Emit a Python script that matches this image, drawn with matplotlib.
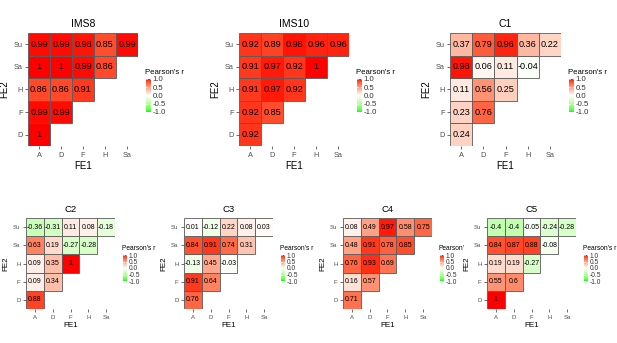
import numpy as np
import matplotlib
matplotlib.use("Agg")
import matplotlib.pyplot as plt
from matplotlib.colors import ListedColormap, Normalize
from matplotlib.patches import Rectangle

plt.rcParams["font.family"] = ["Liberation Sans", "DejaVu Sans"]

# rows bottom -> top, columns left -> right
fe1 = ["A", "D", "F", "H", "Sa"]
fe2 = ["D", "F", "H", "Sa", "Su"]

ims8 = [[1], [0.99, 0.99], [0.86, 0.86, 0.91], [1, 1, 0.99, 0.86],
        [0.99, 0.99, 0.98, 0.85, 0.99]]
ims10 = [[0.92], [0.92, 0.85], [0.91, 0.97, 0.92], [0.91, 0.97, 0.92, 1],
         [0.92, 0.89, 0.98, 0.96, 0.96]]
c1 = [[0.24], [0.23, 0.76], [0.11, 0.56, 0.25], [0.98, 0.06, 0.11, -0.04],
      [0.37, 0.79, 0.96, 0.36, 0.22]]
c2 = [[0.88], [0.09, 0.34], [0.09, 0.35, 1], [0.63, 0.19, -0.27, -0.28],
      [-0.36, -0.31, 0.11, 0.08, -0.18]]
c3 = [[0.76], [0.91, 0.64], [-0.13, 0.45, -0.03], [0.84, 0.91, 0.74, 0.31],
      [0.01, -0.12, 0.22, 0.08, 0.03]]
c4 = [[0.71], [0.16, 0.57], [0.76, 0.93, 0.69], [0.48, 0.91, 0.78, 0.85],
      [0.08, 0.49, 0.97, 0.58, 0.75]]
c5 = [[1], [0.55, 0.6], [0.19, 0.19, -0.27], [0.84, 0.87, 0.88, -0.08],
      [-0.4, -0.4, -0.05, -0.24, -0.28]]

titles = ["IMS8", "IMS10", "C1", "C2", "C3", "C4", "C5"]
mats = [ims8, ims10, c1, c2, c3, c4, c5]
legend_titles = ["Pearson's r"] * 5 + ["Pearson'", "Pearson's r"]
cbar_ticks = [1.0, 0.5, 0.0, -0.5, -1.0]


# green - white - red gradient, interpolated in Lab like ggplot
M = np.array([[0.4124, 0.3576, 0.1805], [0.2126, 0.7152, 0.0722], [0.0193, 0.1192, 0.9505]])
WP = np.array([0.95047, 1.0, 1.08883])


def to_lab(rgb):
    c = np.asarray(rgb, float)
    lin = np.where(c <= 0.04045, c / 12.92, ((c + 0.055) / 1.055) ** 2.4)
    xyz = M @ lin / WP
    f = np.where(xyz > 0.008856, np.cbrt(xyz), 7.787 * xyz + 16 / 116)
    return np.array([116 * f[1] - 16, 500 * (f[0] - f[1]), 200 * (f[1] - f[2])])


def from_lab(lab):
    L, a, b = lab
    fy = (L + 16) / 116
    f = np.array([fy + a / 500, fy, fy - b / 200])
    xyz = np.where(f ** 3 > 0.008856, f ** 3, (f - 16 / 116) / 7.787) * WP
    lin = np.clip(np.linalg.inv(M) @ xyz, 0, 1)
    c = np.where(lin <= 0.0031308, 12.92 * lin, 1.055 * lin ** (1 / 2.4) - 0.055)
    return np.clip(c, 0, 1)


green, white, red = to_lab([0, 1, 0]), to_lab([1, 1, 1]), to_lab([1, 0, 0])
cols = [from_lab(green + (white - green) * t) for t in np.linspace(0, 1, 128)]
cols += [from_lab(white + (red - white) * t) for t in np.linspace(0, 1, 128)]
cmap = ListedColormap(cols)
norm = Normalize(-1, 1)

W, H = 617, 343
fig = plt.figure(figsize=(W / 100, H / 100), dpi=100)


def px_axes(left, top, right, bottom):
    return fig.add_axes([left / W, 1 - bottom / H, (right - left) / W, (bottom - top) / H])


# grid boxes in pixels: left, top, right, bottom
boxes = [(28, 33, 138, 146), (239, 33, 349, 146), (450, 33, 561, 146),
         (26, 218, 115, 309), (184, 218, 273, 309), (343, 218, 432, 309), (487, 218, 576, 309)]

for k in range(7):
    big = k < 3
    l, t, r, b = boxes[k]
    ax = px_axes(l, t, r, b)
    for i, row in enumerate(mats[k]):
        for j, v in enumerate(row):
            ax.add_patch(Rectangle((j - 0.5, i - 0.5), 1, 1, facecolor=cmap(norm(v)),
                                   edgecolor="#5a5a5a", linewidth=0.6))
            ax.text(j, i, f"{v:g}", ha="center", va="center", fontsize=6.6 if big else 5.0)
    ax.set_xlim(-0.5, 4.5)
    ax.set_ylim(-0.5, 4.5)
    for s in ax.spines.values():
        s.set_visible(False)
    ax.set_xticks(range(5), fe1)
    ax.set_yticks(range(5), fe2)
    ax.tick_params(length=2, width=0.5, color="#333333", labelcolor="#4d4d4d",
                   labelsize=5.3 if big else 4.3, pad=2)
    ax.set_xlabel("FE1", fontsize=7 if big else 5.8, labelpad=2)
    ax.set_ylabel("FE2", fontsize=7 if big else 5.8, labelpad=3)
    ax.set_title(titles[k], fontsize=7.5 if big else 6.8, pad=4)

    # colour bar legend
    if big:
        cx, ct, cw, cb, fs = r + 8, 79, 5, 112, 5.6
    else:
        cx, ct, cw, cb, fs = r + 8, 255, 4, 281, 4.8
    cax = px_axes(cx, ct, cx + cw, cb)
    cax.imshow(np.linspace(1, -1, 200)[:, None], cmap=cmap, vmin=-1, vmax=1,
               aspect="auto", extent=[0, 1, -1, 1])
    for v in cbar_ticks:
        cax.plot([0, 0.2], [v, v], color="white", lw=0.5)
        cax.plot([0.8, 1], [v, v], color="white", lw=0.5)
    cax.set_xlim(0, 1)
    cax.set_ylim(-1, 1)
    cax.set_xticks([])
    cax.yaxis.tick_right()
    cax.set_yticks(cbar_ticks, [f"{v:.1f}" for v in cbar_ticks])
    cax.tick_params(length=0, labelsize=fs, pad=1, labelcolor="#333333")
    for s in cax.spines.values():
        s.set_visible(False)
    fig.text((cx - 1) / W, 1 - (ct - 3) / H, legend_titles[k], fontsize=fs, va="bottom", ha="left")

fig.savefig("out.png", dpi=100)
